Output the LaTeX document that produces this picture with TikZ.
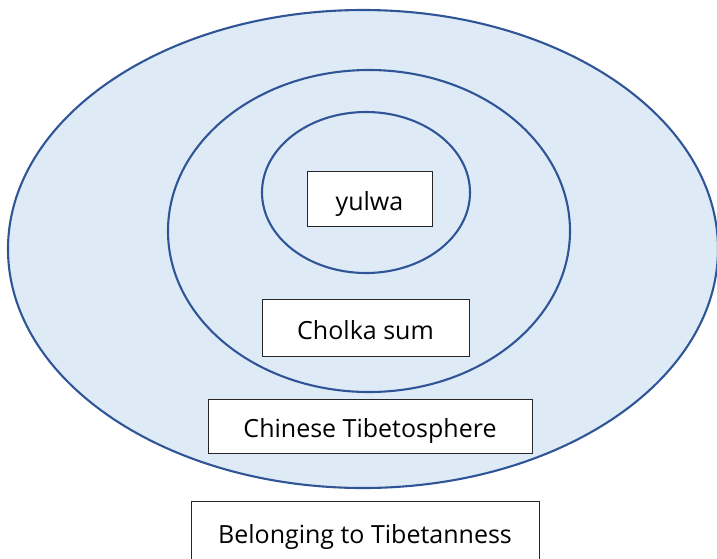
\documentclass[tikz,border=0pt]{standalone}
\usepackage{fontspec}
\setmainfont{Open Sans}
\usepackage{xcolor}
\definecolor{ringline}{HTML}{2F5597}
\definecolor{ringfill}{HTML}{DEEBF7}
\usetikzlibrary{positioning}

\begin{document}
\begin{tikzpicture}[x=1pt,y=-1pt,every node/.style={font=\fontsize{25}{28}\selectfont,align=center},ring/.style={draw=ringline,line width=2.1pt,fill=ringfill},label box/.style={draw=black!85,line width=1pt,fill=white,inner sep=0pt,text height=23pt,text depth=0pt}]
\useasboundingbox (0,0) rectangle (717,558);
\draw[ring] (363,249) ellipse [x radius=355,y radius=239];
\draw[ring] (369,231) ellipse [x radius=201,y radius=161];
\draw[ring] (366,192.5) ellipse [x radius=104,y radius=80.5];
\node[label box,minimum width=125pt,minimum height=55pt] (yulwa) at (369.5,198.5) {yulwa};
\node[label box,minimum width=207pt,minimum height=57pt] (cholka) at (365.5,327.5) {Cholka sum};
\node[label box,minimum width=324pt,minimum height=54pt] (sphere) at (370,426) {Chinese Tibetosphere};
\node[label box,minimum width=348pt,minimum height=62pt] (belong) at (365,532) {Belonging to Tibetanness};
\end{tikzpicture}
\end{document}
